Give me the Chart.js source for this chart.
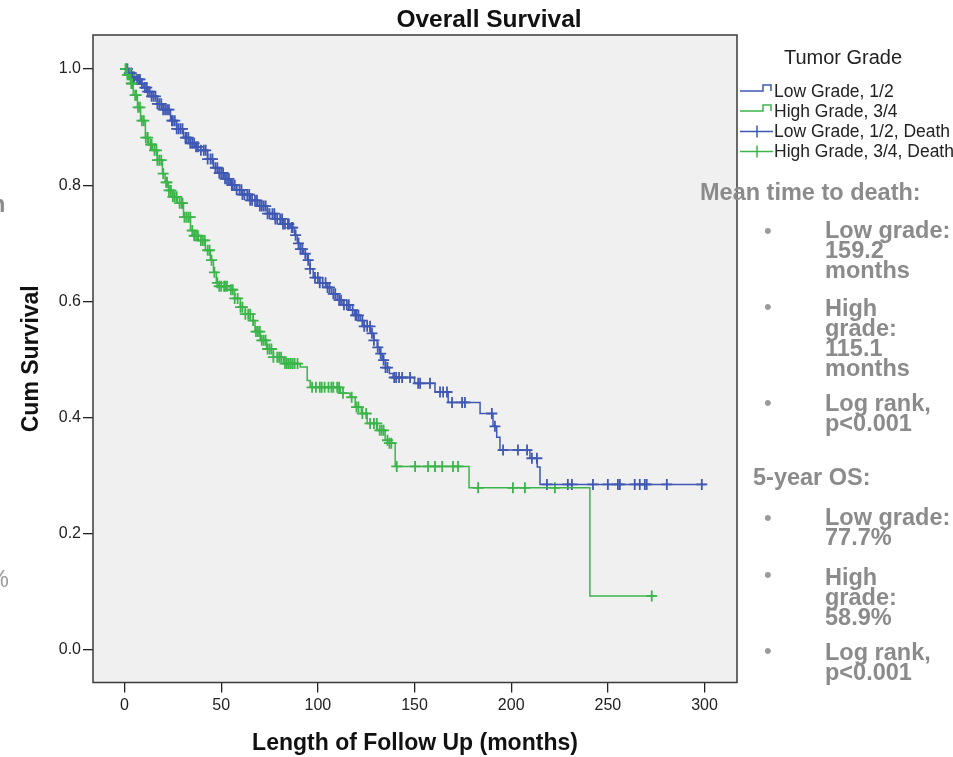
<!DOCTYPE html>
<html>
<head>
<meta charset="utf-8">
<title>Overall Survival</title>
<script src="https://cdn.jsdelivr.net/npm/chart.js@4.4.1/dist/chart.umd.min.js"></script>
<style>
  body { margin: 0; background: #fff; }
  #wrap {
    position: relative;
    width: 953px;
    height: 757px;
    overflow: hidden;
    font-family: 'Liberation Sans', Arial, sans-serif;
  }
  #chart { position: absolute; left: 0; top: 0; }
  .note {
    position: absolute;
    color: #8b8b8b;
    font-weight: bold;
    font-size: 23.5px;
    line-height: 20px;
    white-space: nowrap;
  }
  .bullet {
    position: absolute;
    color: #9a9a9a;
    font-size: 22px;
    line-height: 22px;
  }
</style>
</head>
<body>
<div id="wrap">
  <canvas id="chart" width="953" height="757"></canvas>

  <div class="note" style="left:-9px; top:194px;">n</div>
  <div class="note" style="left:-12px; top:569px; font-weight:normal; color:#9a9a9a;">%</div>

  <div class="note" style="left:700px; top:182px;">Mean time to death:</div>
  <div class="bullet" style="left:764px; top:220px;">•</div>
  <div class="note" style="left:825px; top:220px;">Low grade:<br>159.2<br>months</div>
  <div class="bullet" style="left:764px; top:296px;">•</div>
  <div class="note" style="left:825px; top:298px;">High<br>grade:<br>115.1<br>months</div>
  <div class="bullet" style="left:764px; top:392px;">•</div>
  <div class="note" style="left:825px; top:393px;">Log rank,<br>p&lt;0.001</div>

  <div class="note" style="left:753px; top:467px;">5-year OS:</div>
  <div class="bullet" style="left:764px; top:507px;">•</div>
  <div class="note" style="left:825px; top:507px;">Low grade:<br>77.7%</div>
  <div class="bullet" style="left:764px; top:564px;">•</div>
  <div class="note" style="left:825px; top:567px;">High<br>grade:<br>58.9%</div>
  <div class="bullet" style="left:764px; top:640px;">•</div>
  <div class="note" style="left:825px; top:642px;">Log rank,<br>p&lt;0.001</div>
</div>

<script>
// Kaplan-Meier steps: time (months) where survival drops, and the new value
const lowTimes = [0, 2, 4, 6, 8.3, 10, 12, 14, 17, 20, 23.8, 27, 30.5, 34, 37, 39.3, 43, 46, 49, 52,
  54.8, 58, 61, 65, 69, 73.9, 78, 82, 85.7, 88, 89.4, 91, 92.5, 94.5, 96, 97.6, 101, 104.9, 107, 110,
  113, 116.7, 119, 121.9, 124, 127.1, 129, 130.7, 132, 133.3, 135, 137, 138.9, 150, 160.6, 167.4,
  183.9, 190.6, 192.5, 194.2, 209.7, 213.5, 214.9, 301];
const lowSurv = [1.0, 0.993, 0.986, 0.982, 0.975, 0.968, 0.961, 0.953, 0.94, 0.93, 0.911, 0.897, 0.882,
  0.872, 0.866, 0.86, 0.845, 0.83, 0.821, 0.811, 0.8, 0.792, 0.784, 0.774, 0.764, 0.751, 0.742, 0.733,
  0.727, 0.714, 0.7, 0.69, 0.682, 0.671, 0.656, 0.641, 0.632, 0.624, 0.613, 0.602, 0.594, 0.585, 0.576,
  0.567, 0.557, 0.545, 0.533, 0.521, 0.51, 0.499, 0.486, 0.476, 0.469, 0.459, 0.444, 0.426, 0.407,
  0.385, 0.366, 0.344, 0.33, 0.315, 0.285, 0.285];

const highTimes = [0, 1.5, 3.1, 4.5, 6.7, 8.3, 10.8, 12.5, 14.5, 17, 19.6, 21, 22.7, 25, 27.4, 30.5,
  34.1, 36, 38.2, 41.8, 44.4, 46, 47.5, 49, 54.8, 57, 59.9, 62.5, 65.1, 67.5, 70.2, 73.5, 77, 82.1,
  90.9, 94.5, 96, 111.6, 116.7, 119.3, 122.5, 125.5, 130.7, 134.8, 137, 140, 178.2, 240.7, 274.3];
const highSurv = [1.0, 0.99, 0.975, 0.955, 0.934, 0.911, 0.882, 0.87, 0.86, 0.843, 0.82, 0.805, 0.791,
  0.78, 0.769, 0.745, 0.722, 0.713, 0.705, 0.688, 0.671, 0.65, 0.632, 0.626, 0.62, 0.605, 0.59, 0.578,
  0.567, 0.548, 0.533, 0.518, 0.504, 0.493, 0.487, 0.464, 0.452, 0.442, 0.435, 0.418, 0.407, 0.39,
  0.378, 0.361, 0.356, 0.316, 0.279, 0.093, 0.093];

// censored cases (months)
const lowCensor = [1, 1.5, 2.5, 3.5, 4, 4.5, 5, 6.5, 7.5, 8, 9, 10.5, 11.5, 12, 13, 14, 15, 16, 17, 18,
  19, 20, 21, 22, 23, 24.5, 25, 26, 27, 28, 29, 30, 31.5, 32, 33, 34, 35, 36, 37, 38, 39.5, 41, 42, 43,
  44.5, 45.5, 47, 48, 49, 50, 51, 52, 53, 54, 55.5, 56, 57, 58, 59.5, 60.5, 61, 62, 63.5, 64.5, 65, 66,
  67.5, 68.5, 70, 71, 72, 73, 74, 75, 76.5, 77.5, 78, 79, 80.5, 81.5, 82, 83, 84.5, 85, 86.5, 87, 88.5,
  90, 91, 92, 93.5, 95, 96, 98.5, 100, 101, 102.5, 104, 105, 106, 108, 109, 111, 112, 113.5, 115, 116,
  118, 119.5, 120, 121, 123, 124, 125.5, 127, 128, 129, 131, 132.5, 134, 135, 136, 139.5, 140.5, 142,
  143.6, 147.7, 151.9, 152.9, 158, 163.2, 164.8, 166.8, 169.4, 174.6, 176.1, 190, 191.6, 195.8, 203.5,
  208.2, 210.7, 213.3, 218.5, 229.3, 231.4, 242.3, 250, 255.2, 256.2, 263.9, 266.5, 269.1, 270.1,
  280.5, 298.6];
const highCensor = [0.5, 1, 1.5, 2, 2.5, 3, 3.5, 4, 5.5, 6, 7, 8, 9, 10, 11, 12, 13.5, 14, 15.5, 16.5,
  17, 18, 19, 20, 21.5, 22, 23, 24, 25, 26, 27, 28.5, 29.5, 30, 31, 32, 33, 34, 35, 36, 37, 38, 39.5,
  40.5, 41.5, 43, 44, 45, 46.5, 48, 49, 50, 51.5, 52, 53, 55, 56, 57, 58.5, 60, 61, 62.5, 64, 65, 66.5,
  68, 69, 70, 71, 72, 73, 74, 75, 76, 77, 79, 80, 81, 83, 84, 85, 86, 87, 88, 89.5, 97, 99, 101, 102,
  103.5, 105.5, 107, 108, 110, 111, 113, 117.5, 120, 121, 123, 125, 127, 129, 130.5, 132, 133, 134,
  136, 137, 138, 140.8, 150.3, 157, 160.6, 164.3, 169.9, 172.5, 182.9, 200.9, 207.1, 222.6, 272.7];

const xTicks = [0, 50, 100, 150, 200, 250, 300];
const yTicks = [0, 0.2, 0.4, 0.6, 0.8, 1.0];

const chartTitle = 'Overall Survival';
const legendTitle = 'Tumor Grade';
const legendLabels = ['Low Grade, 1/2', 'High Grade, 3/4', 'Low Grade, 1/2, Death', 'High Grade, 3/4, Death'];

const blue = '#3f58b3';
const green = '#3bb54a';
const family = "'Liberation Sans', Arial, sans-serif";

const survivalAt = (times, values, t) => {
  let s = values[0];
  for (let i = 0; i < times.length; i += 1) {
    if (times[i] <= t) {
      s = values[i];
    } else {
      break;
    }
  }
  return s;
};

const stepPoints = (times, values) => times.map((t, i) => ({ x: t, y: values[i] }));
const censorPoints = (censor, times, values) =>
  censor.map((t) => ({ x: t, y: survivalAt(times, values, t) }));

const plotFrame = {
  id: 'plotFrame',
  beforeDatasetsDraw(chart) {
    const { ctx, chartArea: a } = chart;
    ctx.save();
    ctx.fillStyle = '#f0f0f0';
    ctx.fillRect(a.left, a.top, a.right - a.left, a.bottom - a.top);
    ctx.restore();
  },
  afterDraw(chart) {
    const { ctx, chartArea: a } = chart;
    ctx.save();
    ctx.strokeStyle = '#3a3a3a';
    ctx.lineWidth = 1.5;
    ctx.strokeRect(a.left, a.top, a.right - a.left, a.bottom - a.top);

    // title
    ctx.fillStyle = '#111';
    ctx.font = `bold 24.5px ${family}`;
    ctx.textAlign = 'center';
    ctx.textBaseline = 'alphabetic';
    ctx.fillText(chartTitle, 489, 27);

    // legend
    ctx.fillStyle = '#222';
    ctx.font = `20px ${family}`;
    ctx.fillText(legendTitle, 843, 64);
    ctx.font = `17.5px ${family}`;
    ctx.textAlign = 'left';
    legendLabels.forEach((label, i) => {
      const base = 96.5 + i * 20;
      const color = i % 2 === 0 ? blue : green;
      ctx.strokeStyle = color;
      ctx.lineWidth = 1.5;
      ctx.beginPath();
      if (i < 2) {
        const low = base - 5.5;
        const high = base - 11.5;
        ctx.moveTo(740, low);
        ctx.lineTo(763, low);
        ctx.lineTo(763, high);
        ctx.lineTo(771, high);
        ctx.lineTo(771, low);
      } else {
        const mid = base - 5;
        ctx.moveTo(740, mid);
        ctx.lineTo(773, mid);
        ctx.moveTo(757, mid - 6);
        ctx.lineTo(757, mid + 6);
      }
      ctx.stroke();
      ctx.fillStyle = '#222';
      ctx.fillText(label, 774, base);
    });
    ctx.restore();
  },
};

new Chart(document.getElementById('chart').getContext('2d'), {
  type: 'scatter',
  data: {
    datasets: [
      {
        label: legendLabels[1],
        data: stepPoints(highTimes, highSurv),
        showLine: true,
        stepped: true,
        borderColor: green,
        borderWidth: 1.5,
        pointRadius: 0,
        fill: false,
      },
      {
        label: legendLabels[0],
        data: stepPoints(lowTimes, lowSurv),
        showLine: true,
        stepped: true,
        borderColor: blue,
        borderWidth: 1.5,
        pointRadius: 0,
        fill: false,
      },
      {
        label: legendLabels[3],
        data: censorPoints(highCensor, highTimes, highSurv),
        showLine: false,
        pointStyle: 'cross',
        pointRadius: 5.5,
        borderColor: green,
        borderWidth: 1.8,
      },
      {
        label: legendLabels[2],
        data: censorPoints(lowCensor, lowTimes, lowSurv),
        showLine: false,
        pointStyle: 'cross',
        pointRadius: 5.5,
        borderColor: blue,
        borderWidth: 1.8,
      },
    ],
  },
  options: {
    responsive: false,
    devicePixelRatio: 1,
    animation: false,
    events: [],
    layout: { padding: { left: 0, top: 35, right: 216, bottom: 0 } },
    plugins: {
      legend: { display: false },
      title: { display: false },
      tooltip: { enabled: false },
    },
    scales: {
      x: {
        type: 'linear',
        min: -16.3,
        max: 316.8,
        afterBuildTicks: (scale) => {
          scale.ticks = xTicks.map((value) => ({ value }));
        },
        afterFit: (scale) => {
          scale.height = 74.5;
        },
        grid: { drawOnChartArea: false, drawTicks: true, tickLength: 10, color: '#222', lineWidth: 1.3 },
        border: { display: false },
        ticks: {
          color: '#222',
          font: { size: 16, family },
          padding: 3,
          maxRotation: 0,
          callback: (value) => String(value),
        },
        title: {
          display: true,
          text: 'Length of Follow Up (months)',
          color: '#111',
          font: { size: 23, weight: 'bold', family },
          padding: { top: 0, bottom: 0 },
        },
      },
      y: {
        type: 'linear',
        min: -0.056,
        max: 1.0585,
        afterBuildTicks: (scale) => {
          scale.ticks = yTicks.map((value) => ({ value }));
        },
        afterFit: (scale) => {
          scale.width = 93;
        },
        grid: { drawOnChartArea: false, drawTicks: true, tickLength: 10, color: '#222', lineWidth: 1.3 },
        border: { display: false },
        ticks: {
          color: '#222',
          font: { size: 16, family },
          padding: 2,
          callback: (value) => value.toFixed(1),
        },
        title: {
          display: true,
          text: 'Cum Survival',
          color: '#111',
          font: { size: 23, weight: 'bold', family },
          padding: { top: 18, bottom: 0 },
        },
      },
    },
  },
  plugins: [plotFrame],
});
</script>
</body>
</html>
